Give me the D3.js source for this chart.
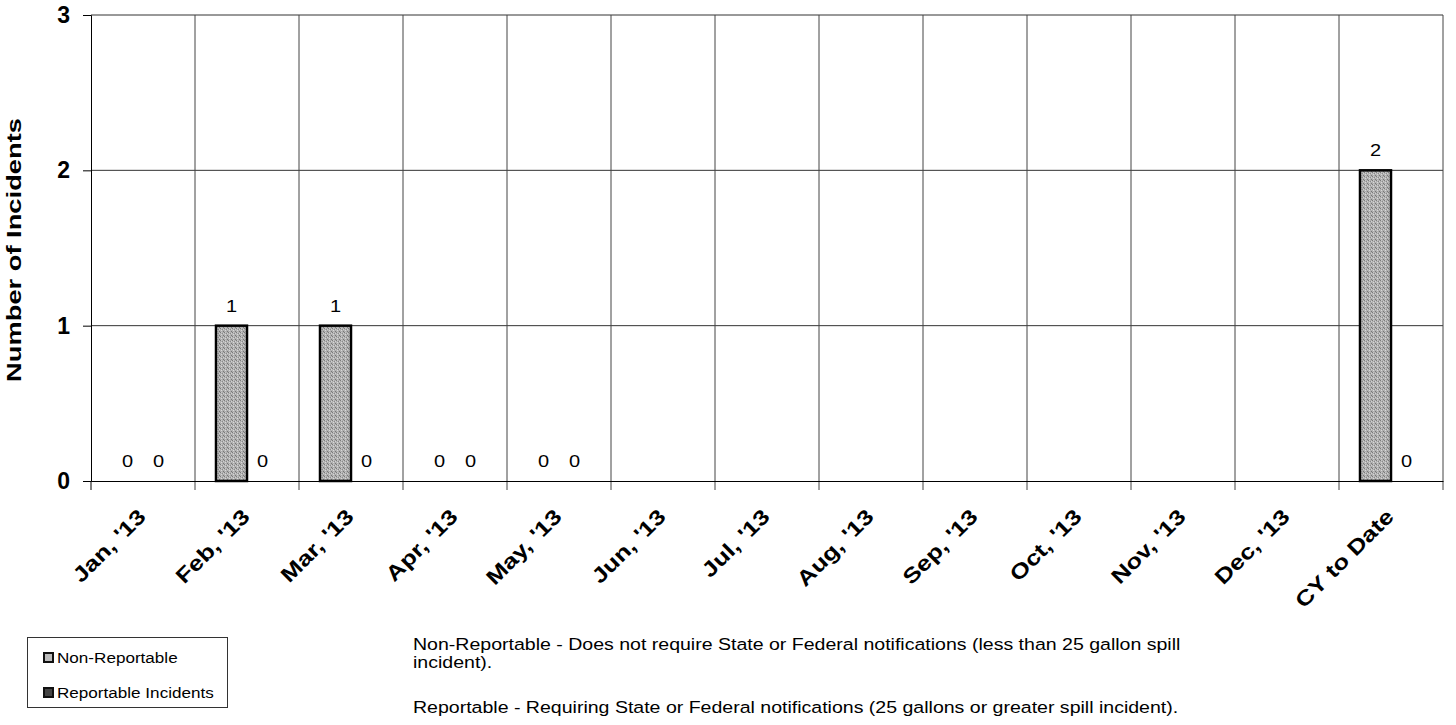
<!DOCTYPE html>
<html><head><meta charset="utf-8">
<script src="https://cdn.jsdelivr.net/npm/d3@7"></script>
<style>body{margin:0;background:#fff;}svg{display:block;font-family:Arial,"Liberation Sans",sans-serif;}</style>
</head><body>
<svg id="c" width="1456" height="725"></svg>
<script>
const categories = ["Jan, '13","Feb, '13","Mar, '13","Apr, '13","May, '13","Jun, '13","Jul, '13","Aug, '13","Sep, '13","Oct, '13","Nov, '13","Dec, '13","CY to Date"];
const seriesNames = ["Non-Reportable","Reportable Incidents"];
const nonReportable = [0,1,1,0,0,null,null,null,null,null,null,null,2];
const reportable    = [0,0,0,0,0,null,null,null,null,null,null,null,0];
const yTicks = [0,1,2,3];
const yTitle = "Number of Incidents";
const noteLines = [
  "Non-Reportable - Does not require State or Federal notifications (less than 25 gallon spill",
  "incident).",
  "Reportable - Requiring State or Federal notifications (25 gallons or greater spill incident)."
];

const FONT = "Arial, 'Liberation Sans', sans-serif";
const svg = d3.select("#c");
const L = 91, R = 1443, T = 15, B = 481;
const x = d3.scaleBand().domain(categories).range([L, R]);
const xs = d3.scaleBand().domain(seriesNames).range([21, 83]);
const y = d3.scaleLinear().domain([0, 3]).range([B, T]);

// stipple pattern for bars
const defs = svg.append("defs");
const pat = defs.append("pattern").attr("id", "stip").attr("patternUnits", "userSpaceOnUse")
  .attr("width", 4).attr("height", 4);
pat.append("rect").attr("width", 4).attr("height", 4).attr("fill", "#b0b0b0");
[[0,0,"#7a7a7a"],[2,1,"#8a8a8a"],[1,2,"#d8d8d8"],[3,3,"#777"],[3,1,"#d0d0d0"],[1,0,"#c8c8c8"]].forEach(p =>
  pat.append("rect").attr("x", p[0]).attr("y", p[1]).attr("width", 1).attr("height", 1).attr("fill", p[2]));

// grid: horizontal
svg.append("g").selectAll("line").data(yTicks.filter(d => d > 0)).join("line")
  .attr("x1", L).attr("x2", R).attr("y1", d => y(d)).attr("y2", d => y(d))
  .attr("stroke", "#333").attr("stroke-width", 1);
// grid: vertical at category boundaries
const bounds = categories.map(c => x(c)).concat([R]);
svg.append("g").selectAll("line").data(bounds.slice(1)).join("line")
  .attr("x1", d => d).attr("x2", d => d).attr("y1", T).attr("y2", B + 9)
  .attr("stroke", "#444").attr("stroke-width", 1);

// bars
const data = [];
categories.forEach((c, i) => {
  data.push({c, s: seriesNames[0], v: nonReportable[i]});
  data.push({c, s: seriesNames[1], v: reportable[i]});
});
const g = svg.append("g");
g.selectAll("rect").data(data.filter(d => d.v !== null && d.v > 0)).join("rect")
  .attr("x", d => x(d.c) + xs(d.s))
  .attr("width", xs.bandwidth())
  .attr("y", d => y(d.v))
  .attr("height", d => y(0) - y(d.v))
  .attr("fill", d => d.s === seriesNames[0] ? "url(#stip)" : "#555")
  .attr("stroke", "#000").attr("stroke-width", 2.5);

// value labels
g.selectAll("text").data(data.filter(d => d.v !== null)).join("text")
  .attr("transform", d => `translate(${x(d.c) + xs(d.s) + xs.bandwidth() / 2},${y(d.v) - 14}) scale(1.25,1)`)
  .attr("text-anchor", "middle")
  .attr("font-size", 16).attr("fill", "#000")
  .text(d => d.v);

// axes
const yAxis = d3.axisLeft(y).tickValues(yTicks).tickSize(8).tickPadding(13).tickFormat(d3.format("d"));
const ya = svg.append("g").attr("transform", `translate(${L},0)`).call(yAxis);
ya.select(".domain").attr("stroke", "#000");
ya.selectAll(".tick line").attr("stroke", "#000");
ya.selectAll(".tick text").attr("font-size", 23).attr("font-weight", "bold").attr("fill", "#000")
  .attr("font-family", FONT);

const xAxis = d3.axisBottom(x).tickSize(0).tickPadding(0);
const xa = svg.append("g").attr("transform", `translate(0,${B})`).call(xAxis);
xa.select(".domain").attr("stroke", "#000");
xa.selectAll(".tick text")
  .attr("font-size", 21).attr("font-weight", "bold").attr("fill", "#000")
  .attr("font-family", FONT)
  .attr("text-anchor", "end")
  .attr("dy", null).attr("y", 0)
  .attr("transform", "translate(4,37) rotate(-45) scale(1.22,1)");
svg.append("line").attr("x1", L).attr("x2", L).attr("y1", B).attr("y2", B + 9).attr("stroke", "#000");

// y title
svg.append("text")
  .attr("transform", `translate(21,${(T + B) / 2 + 2}) rotate(-90) scale(1.3,1)`)
  .attr("text-anchor", "middle")
  .attr("font-size", 21).attr("font-weight", "bold")
  .text(yTitle);

// legend
const lg = svg.append("g");
lg.append("rect").attr("x", 27.5).attr("y", 637.5).attr("width", 200).attr("height", 70)
  .attr("fill", "#fff").attr("stroke", "#333").attr("stroke-width", 1);
seriesNames.forEach((s, i) => {
  const yy = 663 + i * 35;
  lg.append("rect").attr("x", 44).attr("y", yy - 10).attr("width", 9).attr("height", 9)
    .attr("fill", i === 0 ? "#bbb" : "#444").attr("stroke", "#111").attr("stroke-width", 2);
  lg.append("text").attr("transform", `translate(57,${yy}) scale(1.14,1)`).attr("font-size", 15).text(s);
});

// notes
const noteY = [650, 668, 713];
svg.append("g").selectAll("text").data(noteLines).join("text")
  .attr("transform", (d, i) => `translate(413,${noteY[i]}) scale(1.15,1)`)
  .attr("font-size", 17).text(d => d);
</script>
</body></html>
